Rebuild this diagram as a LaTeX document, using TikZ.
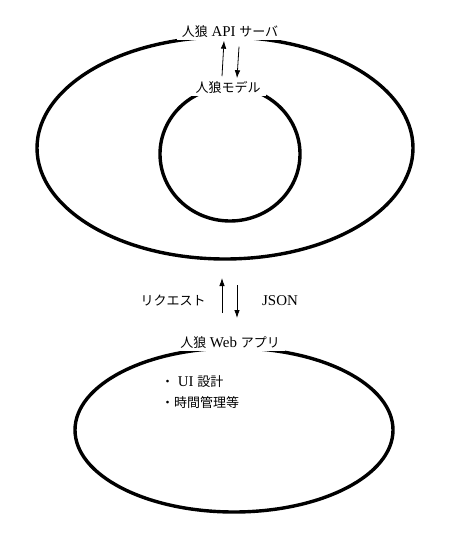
\documentclass[tikz,border=0pt]{standalone}
\usepackage{fontspec}
\setmainfont{Liberation Serif}[Scale=1.15]
\newfontfamily\jp{Noto Sans CJK JP}
\usetikzlibrary{arrows.meta}
\begin{document}
\begin{tikzpicture}[x=1pt,y=-1pt,
 ring/.style={draw,line width=3.4pt},
 lbl/.style={fill=white,inner ysep=2.5pt,inner xsep=5pt,font=\fontsize{13}{15}\selectfont},
 txt/.style={inner sep=1pt,font=\fontsize{13}{15}\selectfont},
 arr/.style={-{Latex[length=8pt,width=5.5pt]},line width=0.8pt}]
\useasboundingbox (0,0) rectangle (462,535);
\draw[ring] (225,148) ellipse [x radius=188, y radius=111];
\draw[ring] (230,154) ellipse [x radius=70, y radius=67];
\draw[ring] (234,430) ellipse [x radius=159, y radius=82];
\node[lbl] (api) at (230,32) {{\jp 人狼} API {\jp サーバ}};
\node[lbl] (model) at (228,87) {\jp 人狼モデル};
\node[lbl] (web) at (230,343) {{\jp 人狼} Web {\jp アプリ}};
\draw[arr] ([xshift=-6pt,yshift=2pt]model.north) -- ([xshift=-6pt]api.south);
\draw[arr] ([xshift=9pt,yshift=-6pt]api.south) -- ([xshift=9pt]model.north);
\coordinate (reqA) at (222,313);
\coordinate (reqB) at (222,278);
\coordinate (resA) at (237,285);
\coordinate (resB) at (237,318);
\draw[arr] (reqA) -- (reqB);
\draw[arr] (resA) -- (resB);
\node[txt] (req) at (173,301) {\jp リクエスト};
\node[txt] (json) at (280,301) {JSON};
\node[txt,anchor=west] (b1) at (160,382) {{\jp ・} UI {\jp 設計}};
\node[txt,anchor=west] (b2) at (160,403) {\jp ・時間管理等};
\end{tikzpicture}
\end{document}
